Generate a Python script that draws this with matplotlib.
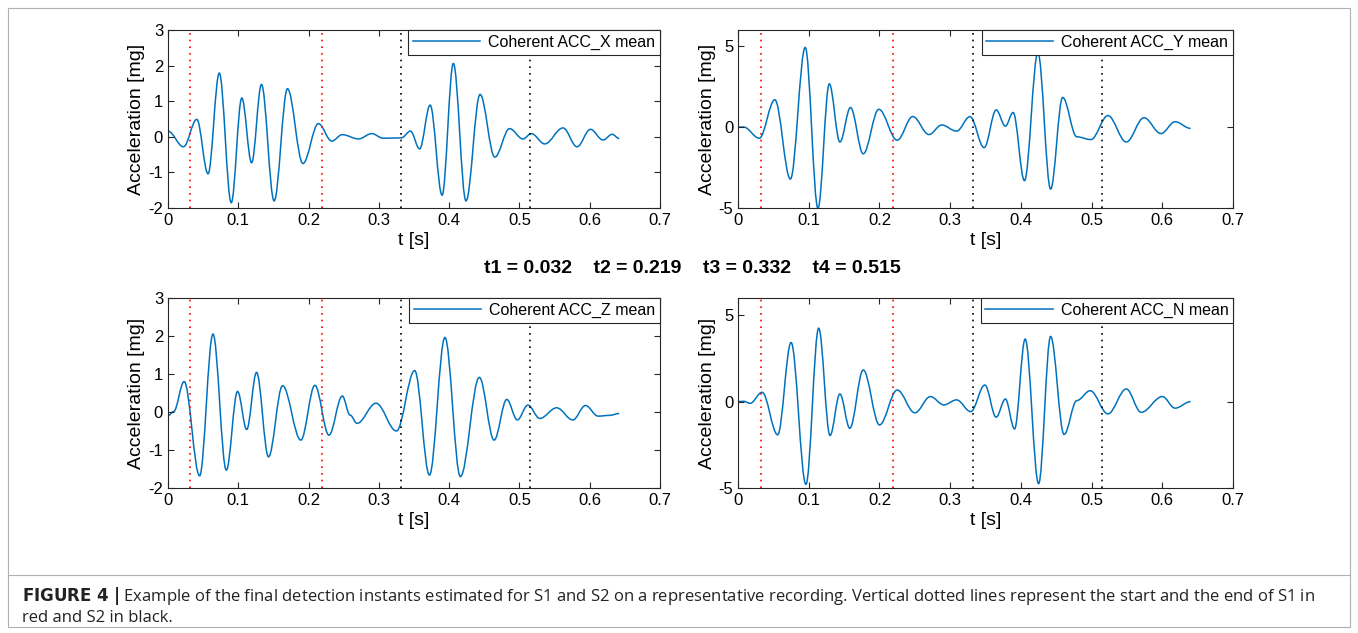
import matplotlib.pyplot as plt
from matplotlib.path import Path
from matplotlib.patches import PathPatch, Rectangle
from matplotlib.lines import Line2D

# %% Data: extrema (time [s], acceleration [mg])

x_t = [0, .022, .041, .057, .073, .090, .105, .119, .133, .151, .170, .192, .214, .233, .248,
       .271, .290, .306, .332, .345, .358, .373, .390, .406, .424, .444, .465, .486, .505,
       .517, .536, .562, .582, .601, .619, .632, .642]
x_v = [0.16, -0.28, 0.49, -1.04, 1.79, -1.85, 1.09, -0.73, 1.47, -1.80, 1.35, -0.75, 0.37, -0.12,
       0.06, -0.06, 0.09, -0.04, -0.03, 0.16, -0.34, 0.89, -1.64, 2.06, -1.80, 1.19, -0.57, 0.23,
       -0.06, 0.09, -0.20, 0.25, -0.28, 0.21, -0.09, 0.07, -0.05]

y_t = [0, .008, .030, .052, .074, .095, .113, .129, .144, .159, .177, .199, .225, .247, .270,
       .288, .309, .328, .348, .365, .378, .389, .405, .424, .442, .459, .479, .499, .523, .549,
       .574, .598, .618, .640]
y_v = [0, 0, -0.69, 1.69, -3.21, 4.92, -5.02, 2.67, -0.92, 1.21, -1.65, 1.10, -0.81, 0.65, -0.46,
       0.13, -0.25, 0.65, -1.27, 1.06, 0.06, 0.90, -3.31, 4.60, -3.83, 1.83, -0.60, -0.77, 0.71,
       -0.92, 0.58, -0.40, 0.33, -0.08]

z_t = [0, .008, .023, .045, .064, .083, .099, .112, .126, .143, .163, .189, .209, .229, .248,
       .259, .269, .296, .325, .351, .372, .394, .416, .443, .464, .482, .497, .512, .529, .553,
       .576, .594, .612, .628, .642]
z_v = [-0.1, 0.01, 0.80, -1.68, 2.05, -1.53, 0.54, -0.46, 1.04, -1.18, 0.69, -0.74, 0.70, -0.61,
       0.42, -0.08, -0.30, 0.23, -0.50, 1.09, -1.66, 1.96, -1.70, 0.91, -0.74, 0.33, -0.21, 0.18,
       -0.17, 0.11, -0.21, 0.17, -0.11, -0.09, -0.04]

n_t = [0, .008, .017, .034, .056, .075, .096, .114, .130, .144, .158, .177, .200, .225, .250,
       .272, .291, .309, .329, .349, .365, .378, .391, .406, .425, .442, .461, .479, .498, .523,
       .549, .570, .600, .618, .640]
n_v = [0, 0.02, -0.1, 0.54, -1.92, 3.42, -4.79, 4.25, -1.96, 0.44, -1.54, 1.83, -1.35, 0.67,
       -0.65, 0.29, -0.19, 0.10, -0.58, 0.96, -0.90, 0.15, -1.58, 3.62, -4.75, 3.77, -1.90, 0.06,
       0.63, -0.71, 0.73, -0.62, 0.29, -0.38, 0.0]

instants = [0.032, 0.219, 0.332, 0.515]
instant_colors = ['red', 'red', 'black', 'black']

panels = [
    ('Coherent ACC_X mean', x_t, x_v, (-2, 3), [-2, -1, 0, 1, 2, 3], ['-2', '-1', '0', '1', '2', '3']),
    ('Coherent ACC_Y mean', y_t, y_v, (-5, 6), [-5, 0, 5], ['-5', '0', '5']),
    ('Coherent ACC_Z mean', z_t, z_v, (-2, 3), [-2, -1, 0, 1, 2, 3], ['-2', '-1', '0', '1', '2', '3']),
    ('Coherent ACC_N mean', n_t, n_v, (-5, 6), [-5, 0, 5], ['-5', '0', '5']),
]

positions = [[0.1237, 0.6714, 0.3623, 0.2812], [0.5435, 0.6714, 0.3645, 0.2812],
             [0.1237, 0.2291, 0.3623, 0.3002], [0.5435, 0.2291, 0.3645, 0.3002]]

line_col = '#0072BD'


def smooth_path(ts, vs):
    # cubic Bezier pieces with flat tangents at each extremum
    verts = [(ts[0], vs[0])]
    codes = [Path.MOVETO]
    for i in range(1, len(ts)):
        dt = ts[i] - ts[i - 1]
        verts += [(ts[i - 1] + dt * 0.36, vs[i - 1]), (ts[i] - dt * 0.36, vs[i]), (ts[i], vs[i])]
        codes += [Path.CURVE4] * 3
    return Path(verts, codes)


# %% Figure

fig = plt.figure(figsize=(13.58, 6.33), dpi=100)
plt.rcParams['font.family'] = 'Liberation Sans'

for (label, ts, vs, ylim, yticks, ylabels), pos in zip(panels, positions):
    ax = fig.add_axes(pos)
    ax.add_patch(PathPatch(smooth_path(ts, vs), fill=False, edgecolor=line_col, lw=1.1))
    for xi, c in zip(instants, instant_colors):
        ax.axvline(xi, color=c, ls=(0, (1, 3)), lw=1.2)
    ax.set_xlim(0, 0.7)
    ax.set_ylim(*ylim)
    ax.set_xticks([0, .1, .2, .3, .4, .5, .6, .7])
    ax.set_xticklabels(['0', '0.1', '0.2', '0.3', '0.4', '0.5', '0.6', '0.7'])
    ax.set_yticks(yticks)
    ax.set_yticklabels(ylabels)
    ax.tick_params(direction='in', labelsize=12, length=4, top=True, right=True, color='#262626')
    for s in ax.spines.values():
        s.set_color('#262626')
        s.set_linewidth(0.8)
    ax.set_xlabel('t [s]', fontsize=14, labelpad=3)
    ax.set_ylabel('Acceleration [mg]', fontsize=14, labelpad=2)
    leg = ax.legend(handles=[Line2D([], [], color=line_col, lw=1.1)], labels=[label],
                    loc='upper right', fontsize=11.5, fancybox=False, framealpha=1,
                    edgecolor='#262626', borderaxespad=0, handlelength=4.2,
                    borderpad=0.3, handletextpad=0.5)
    leg.get_frame().set_linewidth(0.8)

fig.text(0.51, 0.576, 't1 = 0.032    t2 = 0.219    t3 = 0.332    t4 = 0.515',
         ha='center', va='center', fontsize=14, fontweight='bold')

# frame and caption
fig.patches.append(Rectangle((8 / 1358, 1 - 627 / 633), 1342 / 1358, 619 / 633,
                             transform=fig.transFigure, fill=False, edgecolor='#b0b0b0', lw=0.8))
fig.add_artist(Line2D([8 / 1358, 1350 / 1358], [1 - 575 / 633] * 2,
                      transform=fig.transFigure, color='#b0b0b0', lw=0.8))
fig.text(22 / 1358, 1 - 596 / 633, r'$\bf{FIGURE\ 4\ |}$ Example of the final detection instants estimated '
         'for S1 and S2 on a representative recording. Vertical dotted lines represent the start and the end of S1 in',
         fontsize=12, va='center', color='#222222', family='Open Sans')
fig.text(22 / 1358, 1 - 618 / 633, 'red and S2 in black.',
         fontsize=12, va='center', color='#222222', family='Open Sans')

fig.savefig('out.png', dpi=100)
